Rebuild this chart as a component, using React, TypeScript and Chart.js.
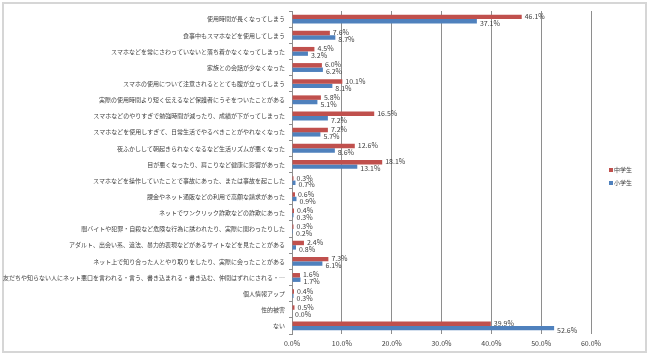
import React, { useEffect, useRef } from 'react';
import { Chart, registerables } from 'chart.js';

Chart.register(...registerables);

const categories = [
  '使用時間が長くなってしまう',
  '食事中もスマホなどを使用してしまう',
  'スマホなどを常にさわっていないと落ち着かなくなってしまった',
  '家族との会話が少なくなった',
  'スマホの使用について注意されるととても腹が立ってしまう',
  '実際の使用時間より短く伝えるなど保護者にうそをついたことがある',
  'スマホなどのやりすぎで勉強時間が減ったり、成績が下がってしまった',
  'スマホなどを使用しすぎて、日常生活でやるべきことがやれなくなった',
  '夜ふかしして朝起きられなくなるなど生活リズムが悪くなった',
  '目が悪くなったり、肩こりなど健康に影響があった',
  'スマホなどを操作していたことで事故にあった、または事故を起こした',
  '課金やネット通販などの利用で高額な請求があった',
  'ネットでワンクリック詐欺などの詐欺にあった',
  '闇バイトや犯罪・自殺など危険な行為に誘われたり、実際に関わったりした',
  'アダルト、出会い系、違法、暴力的表現などがあるサイトなどを見たことがある',
  'ネット上で知り合った人とやり取りをしたり、実際に会ったことがある',
  '友だちや知らない人にネット悪口を言われる・言う、書き込まれる・書き込む、仲間はずれにされる・…',
  '個人情報アップ',
  '性的被害',
  'ない',
];

const juniorHigh = [46.1, 7.6, 4.5, 6.0, 10.1, 5.8, 16.5, 7.2, 12.6, 18.1, 0.3, 0.6, 0.4, 0.3, 2.4, 7.3, 1.6, 0.4, 0.5, 39.9];
const elementary = [37.1, 8.7, 3.2, 6.2, 8.1, 5.1, 7.2, 5.7, 8.6, 13.1, 0.7, 0.9, 0.3, 0.2, 0.8, 6.1, 1.7, 0.3, 0.0, 52.6];

const seriesLabels = ['中学生', '小学生'];
const seriesColors = ['#C0504D', '#4F81BD'];

const FONT = '"Noto Sans CJK JP", "Noto Sans", sans-serif';

const valueLabelPlugin = {
  id: 'valueLabels',
  afterDatasetsDraw(chart: any) {
    const ctx = chart.ctx;
    ctx.save();
    ctx.font = `7px ${FONT}`;
    ctx.fillStyle = '#404040';
    ctx.textAlign = 'left';
    ctx.textBaseline = 'middle';
    chart.data.datasets.forEach((ds: any, di: number) => {
      const meta = chart.getDatasetMeta(di);
      meta.data.forEach((el: any, i: number) => {
        const v = ds.data[i];
        const dy = di === 0 ? -0.5 : 2;
        ctx.fillText(v.toFixed(1) + '%', el.x + 3, el.y + dy);
      });
    });
    ctx.restore();
  },
};

const legendPlugin = {
  id: 'customLegend',
  afterDraw(chart: any) {
    const ctx = chart.ctx;
    ctx.save();
    ctx.font = `6px ${FONT}`;
    ctx.textAlign = 'left';
    ctx.textBaseline = 'middle';
    chart.data.datasets.forEach((ds: any, i: number) => {
      const y = 170 + i * 13;
      ctx.fillStyle = ds.backgroundColor;
      ctx.fillRect(609, y - 2, 4, 4);
      ctx.fillStyle = '#404040';
      ctx.fillText(ds.label, 614, y);
    });
    ctx.restore();
  },
};

export default function App() {
  const ref = useRef<HTMLCanvasElement>(null);

  useEffect(() => {
    const chart = new Chart(ref.current!, {
      type: 'bar',
      data: {
        labels: categories,
        datasets: [
          {
            label: seriesLabels[0],
            data: juniorHigh,
            backgroundColor: seriesColors[0],
            categoryPercentage: 0.55,
            barPercentage: 1.0,
          },
          {
            label: seriesLabels[1],
            data: elementary,
            backgroundColor: seriesColors[1],
            categoryPercentage: 0.55,
            barPercentage: 1.0,
          },
        ],
      },
      options: {
        indexAxis: 'y',
        responsive: false,
        animation: false,
        devicePixelRatio: 1,
        layout: { padding: { top: 11, bottom: 4, left: 0, right: 59 } },
        plugins: {
          legend: { display: false },
          tooltip: { enabled: false },
        },
        scales: {
          x: {
            min: 0,
            max: 60,
            afterFit: (s: any) => { s.height = 19; },
            ticks: {
              stepSize: 10,
              padding: 5,
              color: '#404040',
              font: { family: FONT, size: 7 },
              callback: (v: any) => Number(v).toFixed(1) + '%',
            },
            grid: { color: '#8e8e8e', drawTicks: false },
            border: { display: false },
          },
          y: {
            afterFit: (s: any) => { s.width = 292; },
            ticks: {
              autoSkip: false,
              padding: 4,
              color: '#404040',
              font: { family: FONT, size: 6 },
            },
            grid: { drawOnChartArea: false, tickLength: 3, color: '#8e8e8e' },
            border: { display: true, color: '#8e8e8e' },
          },
        },
      },
      plugins: [valueLabelPlugin, legendPlugin],
    } as any);
    return () => chart.destroy();
  }, []);

  return (
    <div style={{ position: 'fixed', left: 0, top: 0, width: 650, height: 357, background: '#fff' }}>
      <div
        style={{
          position: 'absolute',
          left: 2,
          top: 2,
          width: 645,
          height: 351,
          border: '2px solid #d6d6d6',
          boxSizing: 'border-box',
        }}
      />
      <canvas
        ref={ref}
        width={650}
        height={357}
        style={{ position: 'absolute', left: 0, top: 0, width: 650, height: 357 }}
      />
    </div>
  );
}
